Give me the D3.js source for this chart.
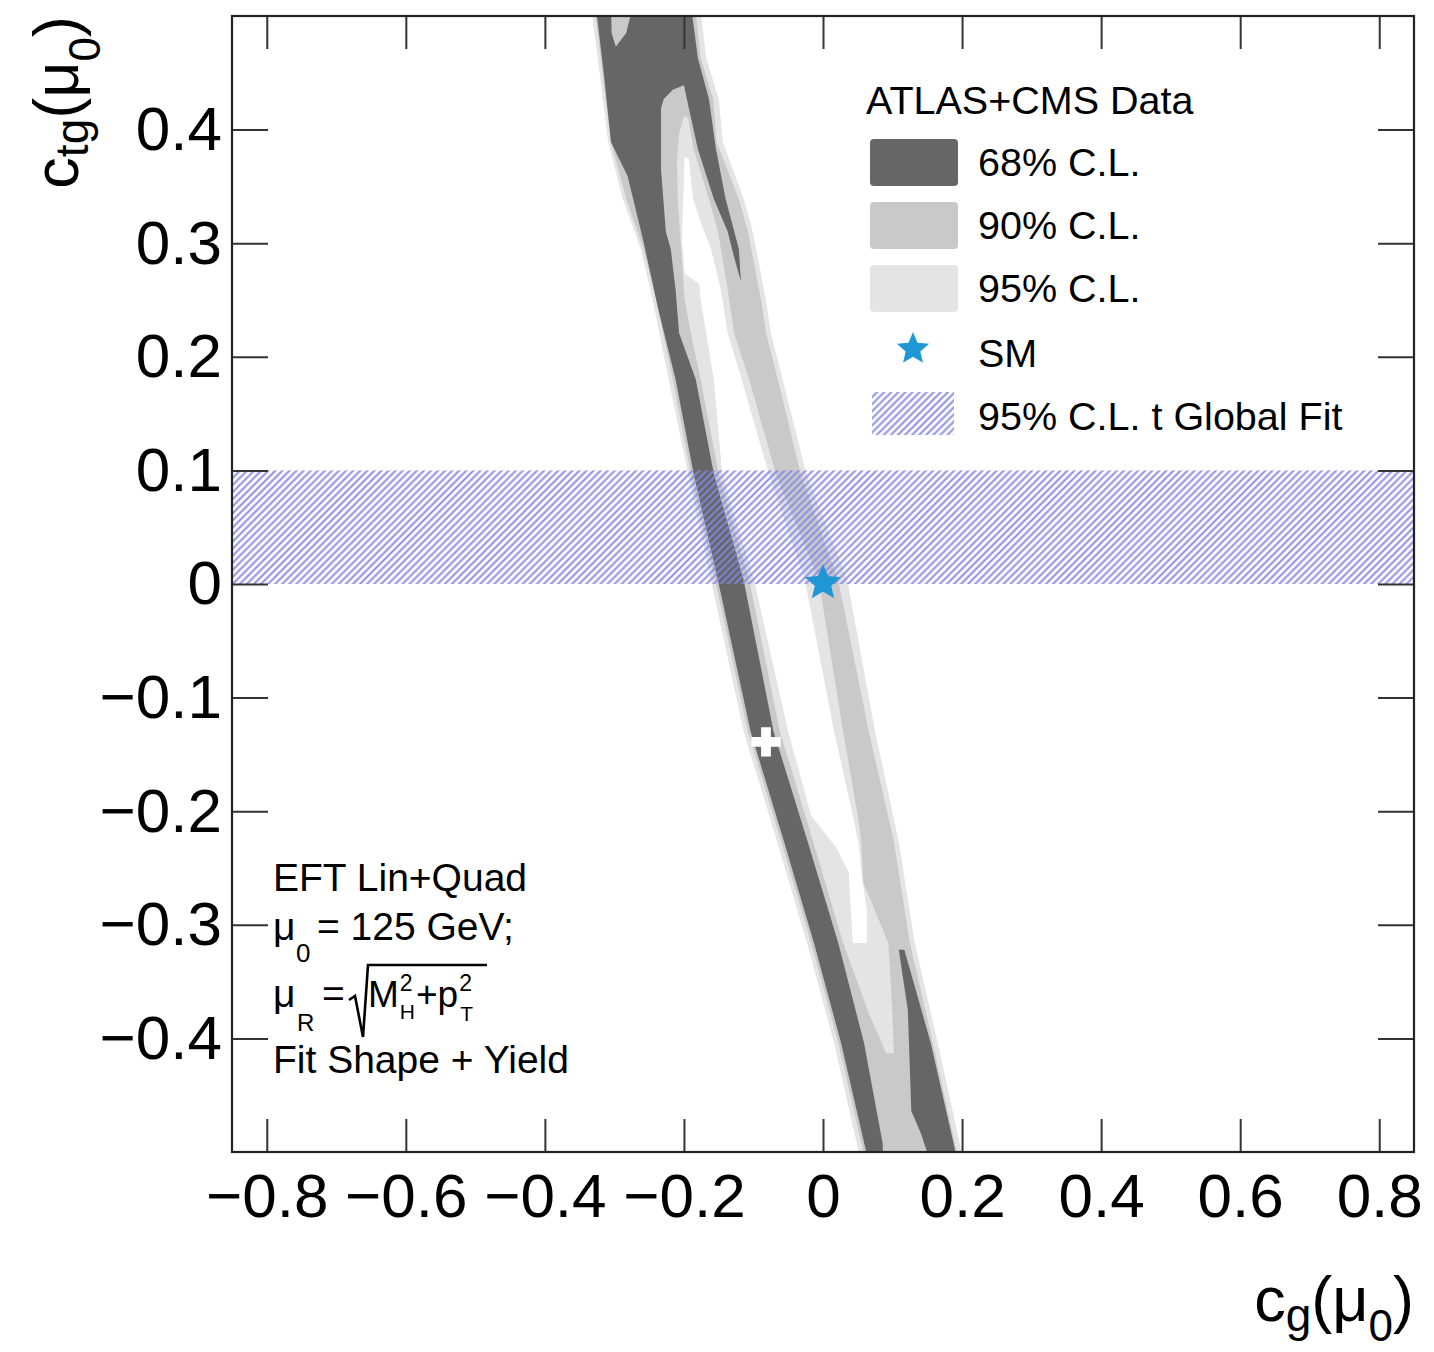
<!DOCTYPE html>
<html>
<head>
<meta charset="utf-8">
<script src="https://cdn.jsdelivr.net/npm/d3@7"></script>
<style>
  body { margin: 0; background: #fff; }
  text { font-family: "Liberation Sans", Arial, Helvetica, sans-serif; fill: #000; }
</style>
</head>
<body>
<svg id="chart" width="1434" height="1352"></svg>
<script>
// tick values
const xTicks = [-0.8, -0.6, -0.4, -0.2, 0, 0.2, 0.4, 0.6, 0.8]
const yTicks = [-0.4, -0.3, -0.2, -0.1, 0, 0.1, 0.2, 0.3, 0.4]

// contour outlines, points are [c_g, c_tg]
const cl95Outer = [[-0.334,0.51],[-0.319,0.439],[-0.309,0.389],[-0.288,0.339],[-0.262,0.295],[-0.245,0.250],[-0.222,0.180],[-0.194,0.097],[-0.161,0.003],[-0.114,-0.130],[-0.066,-0.227],[-0.023,-0.316],[0.016,-0.404],[0.055,-0.51],
  [0.203,-0.51],[0.165,-0.404],[0.132,-0.316],[0.109,-0.227],[0.075,-0.130],[0.035,0.003],[-0.024,0.097],[-0.058,0.180],[-0.075,0.221],[-0.082,0.250],[-0.101,0.310],[-0.114,0.339],[-0.144,0.389],[-0.150,0.427],[-0.168,0.463],[-0.177,0.51]]

const cl90Outer = [[-0.329,0.51],[-0.315,0.439],[-0.305,0.389],[-0.283,0.339],[-0.258,0.295],[-0.240,0.250],[-0.216,0.180],[-0.190,0.097],[-0.155,0.003],[-0.108,-0.130],[-0.060,-0.227],[-0.017,-0.316],[0.022,-0.404],[0.062,-0.51],
  [0.196,-0.51],[0.158,-0.404],[0.125,-0.316],[0.102,-0.227],[0.066,-0.130],[0.022,0.003],[-0.032,0.097],[-0.065,0.180],[-0.082,0.221],[-0.089,0.250],[-0.108,0.310],[-0.121,0.339],[-0.153,0.389],[-0.158,0.427],[-0.176,0.463],[-0.184,0.51]]

// the hole inside the 90% ring (back to 95% level)
const cl90Hole = [[-0.200,0.412],[-0.207,0.396],[-0.210,0.374],[-0.209,0.339],[-0.204,0.295],[-0.199,0.250],[-0.190,0.221],[-0.176,0.180],[-0.150,0.097],[-0.106,0.003],[-0.062,-0.130],[-0.014,-0.227],[0.029,-0.316],[0.066,-0.378],[0.091,-0.413],
  [0.102,-0.413],[0.099,-0.369],[0.094,-0.316],[0.058,-0.263],[0.055,-0.227],[0.050,-0.204],[0.029,-0.130],[-0.006,0.003],[-0.068,0.097],[-0.106,0.180],[-0.128,0.221],[-0.137,0.259],[-0.151,0.310],[-0.164,0.339],[-0.186,0.383],[-0.194,0.410]]

// the hole inside the 95% ring (outside all C.L.)
const cl95Hole = [[-0.199,0.376],[-0.201,0.339],[-0.203,0.304],[-0.199,0.273],[-0.178,0.264],[-0.176,0.250],[-0.168,0.221],[-0.157,0.180],[-0.145,0.097],[-0.099,0.003],[-0.050,-0.130],[-0.017,-0.204],[0.019,-0.232],[0.037,-0.254],[0.040,-0.287],[0.043,-0.316],
  [0.063,-0.316],[0.063,-0.287],[0.055,-0.254],[0.052,-0.232],[0.043,-0.204],[0.016,-0.130],[-0.026,0.003],[-0.078,0.097],[-0.117,0.180],[-0.137,0.221],[-0.147,0.259],[-0.161,0.295],[-0.171,0.310],[-0.187,0.339],[-0.193,0.374]]

const cl68Main = [[-0.327,0.51],[-0.315,0.448],[-0.305,0.389],[-0.281,0.359],[-0.258,0.301],[-0.237,0.242],[-0.212,0.180],[-0.186,0.097],[-0.151,0.003],[-0.104,-0.130],[-0.056,-0.227],[-0.013,-0.316],[0.026,-0.404],[0.066,-0.51],
  [0.086,-0.51],[0.086,-0.493],[0.059,-0.404],[0.022,-0.316],[-0.022,-0.227],[-0.071,-0.130],[-0.114,0.003],[-0.157,0.097],[-0.183,0.180],[-0.207,0.221],[-0.212,0.259],[-0.219,0.295],[-0.226,0.310],[-0.233,0.365],[-0.233,0.419],[-0.229,0.427],[-0.216,0.435],[-0.200,0.439],
  [-0.193,0.419],[-0.180,0.383],[-0.157,0.339],[-0.137,0.310],[-0.128,0.288],[-0.118,0.266],
  [-0.121,0.295],[-0.140,0.339],[-0.154,0.383],[-0.164,0.427],[-0.180,0.463],[-0.190,0.51]]

const cl68Lower = [[0.109,-0.322],[0.122,-0.375],[0.127,-0.464],[0.141,-0.484],[0.155,-0.51],[0.194,-0.51],[0.188,-0.493],[0.155,-0.404],[0.117,-0.322]]

// small 90% notch inside the dark blob at the top
const cl90Notch = [[-0.305,0.51],[-0.273,0.51],[-0.283,0.485],[-0.298,0.473],[-0.304,0.485]]

const smPoint = [0, 0]
const bestFit = [-0.082, -0.139]
const globalFitBand = [0, 0.1]   // c_tg range, t global fit

const legendLabels = ["68% C.L.", "90% C.L.", "95% C.L.", "SM", "95% C.L. t Global Fit"]

const colDark = "#666666", colMid = "#c9c9c9", colLight = "#e4e4e4"
const colStar = "#1f97d4", colHatch = "#8686e4"

/*
 Setup
*/
const svg = d3.select("#chart")
const plotLeft = 232, plotRight = 1414, plotTop = 16, plotBottom = 1152

const x = d3.scaleLinear().domain([-0.85, 0.85]).range([plotLeft, plotRight])
const y = d3.scaleLinear().domain([-0.5, 0.5]).range([plotBottom, plotTop])

const defs = svg.append("defs")
defs.append("clipPath").attr("id", "plotClip")
  .append("rect").attr("x", plotLeft).attr("y", plotTop).attr("width", plotRight - plotLeft).attr("height", plotBottom - plotTop)

const hatch = defs.append("pattern")
  .attr("id", "hatch")
  .attr("patternUnits", "userSpaceOnUse")
  .attr("width", 5).attr("height", 5)
  .attr("patternTransform", "rotate(45)")
hatch.append("line")
  .attr("x1", 2.5).attr("y1", -1).attr("x2", 2.5).attr("y2", 6)
  .attr("stroke", colHatch).attr("stroke-width", 1.9)

const line = d3.line().x(d => x(d[0])).y(d => y(d[1])).curve(d3.curveLinearClosed)

// fat five point star, like the ROOT marker
function starPath(R, r) {
  let p = d3.path()
  for (let i = 0; i < 10; i++) {
    let a = -Math.PI / 2 + i * Math.PI / 5
    let rad = i % 2 === 0 ? R : r
    if (i === 0) p.moveTo(rad * Math.cos(a), rad * Math.sin(a))
    else p.lineTo(rad * Math.cos(a), rad * Math.sin(a))
  }
  p.closePath()
  return p.toString()
}

/*
 Contours
*/
const plot = svg.append("g").attr("clip-path", "url(#plotClip)")

const layers = [
  [cl95Outer, colLight],
  [cl90Outer, colMid],
  [cl90Hole, colLight],
  [cl95Hole, "#ffffff"],
  [cl68Main, colDark],
  [cl68Lower, colDark],
  [cl90Notch, colMid]
]
plot.selectAll("path.cl")
  .data(layers)
  .enter()
  .append("path")
    .attr("class", "cl")
    .attr("d", d => line(d[0]))
    .attr("fill", d => d[1])

// hatched global fit band
plot.append("rect")
  .attr("x", x(-0.85))
  .attr("y", y(globalFitBand[1]))
  .attr("width", x(0.85) - x(-0.85))
  .attr("height", y(globalFitBand[0]) - y(globalFitBand[1]))
  .attr("fill", "url(#hatch)")

// best fit cross
plot.append("path")
  .attr("d", d3.symbol(d3.symbolCross, 480)())
  .attr("transform", `translate(${x(bestFit[0])},${y(bestFit[1])})`)
  .attr("fill", "#ffffff")

// SM star
plot.append("path")
  .attr("d", starPath(19, 8.6))
  .attr("transform", `translate(${x(smPoint[0])},${y(smPoint[1]) - 1})`)
  .attr("fill", colStar)

/*
 Axes
*/
function styleAxis(g) {
  g.select(".domain").remove()
  g.selectAll(".tick line").attr("stroke", "#333").attr("stroke-width", 2)
  g.selectAll(".tick text").attr("font-size", 62).attr("font-family", "Liberation Sans, Arial, sans-serif").attr("fill", "#000")
}
const fmt = d => d === 0 ? "0" : d3.format(".1f")(d)

svg.append("g").attr("transform", `translate(0,${plotBottom})`)
  .call(d3.axisBottom(x).tickValues(xTicks).tickSizeInner(-33).tickSizeOuter(0).tickPadding(21).tickFormat(fmt))
  .call(styleAxis)
svg.append("g").attr("transform", `translate(0,${plotTop})`)
  .call(d3.axisTop(x).tickValues(xTicks).tickSizeInner(-33).tickSizeOuter(0).tickFormat(""))
  .call(styleAxis)
svg.append("g").attr("transform", `translate(${plotLeft},0)`)
  .call(d3.axisLeft(y).tickValues(yTicks).tickSizeInner(-36).tickSizeOuter(0).tickPadding(10).tickFormat(fmt))
  .call(styleAxis)
svg.append("g").attr("transform", `translate(${plotRight},0)`)
  .call(d3.axisRight(y).tickValues(yTicks).tickSizeInner(-36).tickSizeOuter(0).tickFormat(""))
  .call(styleAxis)

svg.append("rect")
  .attr("x", plotLeft).attr("y", plotTop)
  .attr("width", plotRight - plotLeft).attr("height", plotBottom - plotTop)
  .attr("fill", "none").attr("stroke", "#222").attr("stroke-width", 2.2)

// axis titles with subscripts
function titleText(g, parts) {
  let t = g.append("text").attr("text-anchor", "end")
  let shift = 0
  for (const p of parts) {
    let s = t.append("tspan").text(p[0]).attr("font-size", p[1])
    s.attr("dy", p[2] - shift)
    shift = p[2]
  }
  return t
}
titleText(svg.append("g").attr("transform", "translate(1414,1321)"),
  [["c", 63, 0], ["g", 46, 10], ["(μ", 63, 0], ["0", 44, 20], [")", 63, 0]])
titleText(svg.append("g").attr("transform", "translate(78,16) rotate(-90)"),
  [["c", 63, 0], ["tg", 46, 10], ["(μ", 63, 0], ["0", 44, 22], [")", 63, 0]])

/*
 Legend
*/
const leg = svg.append("g")
leg.append("text").attr("x", 866).attr("y", 114).attr("font-size", 39.5).text("ATLAS+CMS Data")
const boxCols = [colDark, colMid, colLight]
for (let i = 0; i < legendLabels.length; i++) {
  let cy = 162 + i * 63
  if (i < 3) {
    leg.append("rect").attr("x", 870).attr("y", cy - 23).attr("width", 88).attr("height", 47)
      .attr("rx", 4).attr("fill", boxCols[i])
  } else if (i === 3) {
    leg.append("path").attr("d", starPath(17, 7.7))
      .attr("transform", `translate(913,${cy - 2})`).attr("fill", colStar)
  } else {
    leg.append("rect").attr("x", 872).attr("y", cy - 22).attr("width", 82).attr("height", 43)
      .attr("fill", "url(#hatch)")
  }
  leg.append("text").attr("x", 978).attr("y", cy + 14 + (i > 2 ? 2 : 0)).attr("font-size", 39.5).text(legendLabels[i])
}

/*
 Info text, lower left
*/
const info = svg.append("g").attr("font-size", 39)
info.append("text").attr("x", 273).attr("y", 891).text("EFT Lin+Quad")

info.append("text").attr("x", 273).attr("y", 940).text("μ")
info.append("text").attr("x", 296).attr("y", 962).attr("font-size", 26).text("0")
info.append("text").attr("x", 317).attr("y", 940).text("= 125 GeV;")

info.append("text").attr("x", 273).attr("y", 1007).text("μ")
info.append("text").attr("x", 297).attr("y", 1031).attr("font-size", 24).text("R")
info.append("text").attr("x", 322).attr("y", 1007).text("=")

// square root term, placed piece by piece
function putText(xp, yp, size, str) {
  let t = info.append("text").attr("x", xp).attr("y", yp).attr("font-size", size).text(str)
  return xp + t.node().getComputedTextLength()
}
let cx = putText(368, 1007, 37, "M")
let a = putText(cx + 1, 991, 23, "2")
let b = putText(cx + 1, 1019, 21, "H")
cx = Math.max(a, b) + 1
cx = putText(cx, 1007, 37, "+p")
a = putText(cx + 1, 991, 23, "2")
b = putText(cx + 2, 1021, 21, "T")
cx = Math.max(a, b)
info.append("path")
  .attr("d", `M349,1000 L355,996 L363,1037 L368,965 L${Math.max(cx + 3, 487)},965`)
  .attr("fill", "none").attr("stroke", "#000").attr("stroke-width", 2.6)

info.append("text").attr("x", 273).attr("y", 1073).text("Fit Shape + Yield")
</script>
</body>
</html>
